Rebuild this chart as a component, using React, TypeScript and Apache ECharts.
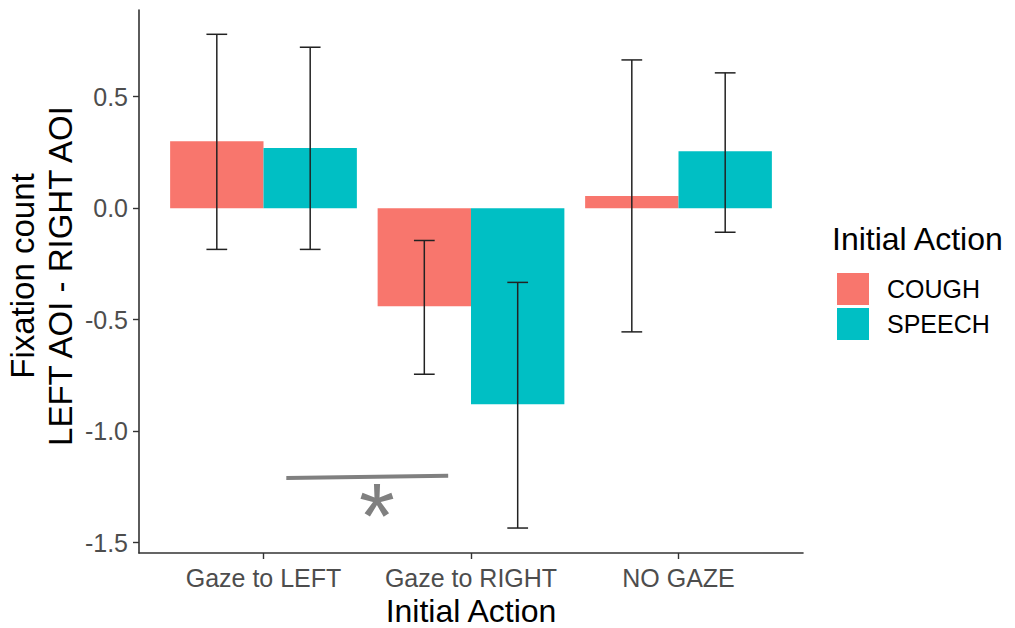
import React, { useEffect, useRef } from "react";
import * as echarts from "echarts";

const categories = ["Gaze to LEFT", "Gaze to RIGHT", "NO GAZE"];
const groups = ["COUGH", "SPEECH"];
const coughMean = [0.3, -0.44, 0.055];
const speechMean = [0.27, -0.88, 0.255];
const coughLow = [-0.185, -0.745, -0.555];
const coughHigh = [0.78, -0.145, 0.665];
const speechLow = [-0.185, -1.435, -0.108];
const speechHigh = [0.722, -0.333, 0.607];
const yTicks = [-1.5, -1.0, -0.5, 0.0, 0.5];
const sigLineX = [1.11, 1.89];
const sigLineY = [-1.211, -1.2];

const colors = ["#F8766D", "#00BFC4"];
const dodge = 0.225;
const barHalf = 0.225;
const whiskerHalf = 0.05;
const FONT = "Liberation Sans, Arial, sans-serif";

export default function App() {
  const ref = useRef<HTMLDivElement>(null);
  useEffect(() => {
    document.body.style.margin = "0";
    if (!ref.current) return;
    const chart = echarts.init(ref.current, null, { renderer: "svg" });
    const means = [coughMean, speechMean];
    const lows = [coughLow, speechLow];
    const highs = [coughHigh, speechHigh];

    const barSeries = groups.map((g, gi) => ({
      type: "custom",
      name: g,
      itemStyle: { color: colors[gi] },
      data: categories.map((_, ci) => [ci + 1 + (gi === 0 ? -dodge : dodge), means[gi][ci]]),
      renderItem: (params: any, api: any) => {
        const x = api.value(0);
        const v = api.value(1);
        const p1 = api.coord([x - barHalf, v]);
        const p2 = api.coord([x + barHalf, 0]);
        return {
          type: "rect",
          shape: {
            x: Math.min(p1[0], p2[0]),
            y: Math.min(p1[1], p2[1]),
            width: Math.abs(p2[0] - p1[0]),
            height: Math.abs(p2[1] - p1[1]),
          },
          style: { fill: colors[gi] },
        };
      },
      z: 2,
    }));

    const errData: number[][] = [];
    groups.forEach((_, gi) => {
      categories.forEach((__, ci) => {
        errData.push([ci + 1 + (gi === 0 ? -dodge : dodge), lows[gi][ci], highs[gi][ci]]);
      });
    });

    const errSeries = {
      type: "custom",
      name: "err",
      data: errData,
      z: 3,
      renderItem: (params: any, api: any) => {
        const x = api.value(0);
        const lo = api.value(1);
        const hi = api.value(2);
        const top = api.coord([x, hi]);
        const bot = api.coord([x, lo]);
        const l = api.coord([x - whiskerHalf, hi])[0];
        const r = api.coord([x + whiskerHalf, hi])[0];
        const st = { stroke: "#222", lineWidth: 1.5 };
        return {
          type: "group",
          children: [
            { type: "line", shape: { x1: top[0], y1: top[1], x2: bot[0], y2: bot[1] }, style: st },
            { type: "line", shape: { x1: l, y1: top[1], x2: r, y2: top[1] }, style: st },
            { type: "line", shape: { x1: l, y1: bot[1], x2: r, y2: bot[1] }, style: st },
          ],
        };
      },
    };

    const sigSeries = {
      type: "line",
      name: "sig",
      data: sigLineX.map((x, i) => [x, sigLineY[i]]),
      symbol: "none",
      lineStyle: { color: "#808080", width: 4, cap: "butt" },
      z: 4,
    };

    chart.setOption({
      animation: false,
      backgroundColor: "#fff",
      grid: { left: 139, right: 212, top: 10, bottom: 75, outerBoundsMode: "none", containLabel: false },
      xAxis: {
        type: "value",
        min: 0.4,
        max: 3.6,
        splitLine: { show: false },
        axisLine: { show: true, onZero: false, lineStyle: { color: "#333", width: 1.6 } },
        axisTick: { show: true, customValues: [1, 2, 3], length: 6, lineStyle: { color: "#333", width: 1.4 } },
        axisLabel: {
          customValues: [1, 2, 3],
          formatter: (v: number) => categories[Math.round(v) - 1] ?? "",
          color: "#4D4D4D",
          fontSize: 25,
          fontFamily: FONT,
          margin: 12,
        },
        name: "Initial Action",
        nameLocation: "middle",
        nameGap: 40,
        nameTextStyle: { color: "#000", fontSize: 32, lineHeight: 32, fontFamily: FONT },
      },
      yAxis: {
        type: "value",
        min: -1.547,
        max: 0.889,
        splitLine: { show: false },
        axisLine: { show: true, lineStyle: { color: "#333", width: 1.6 } },
        axisTick: { show: true, customValues: yTicks, length: 6, lineStyle: { color: "#333", width: 1.4 } },
        axisLabel: {
          customValues: yTicks,
          formatter: (v: number) => v.toFixed(1),
          color: "#4D4D4D",
          fontSize: 25,
          fontFamily: FONT,
          margin: 11,
        },
      },
      legend: {
        data: groups,
        orient: "vertical",
        left: 832,
        top: 268,
        itemWidth: 32,
        itemHeight: 32,
        itemGap: 3,
        icon: "rect",
        textStyle: { color: "#000", fontSize: 25, fontFamily: FONT, padding: [0, 0, 0, 13] },
      },
      graphic: [
        {
          type: "text",
          left: 832,
          top: 223,
          style: { text: "Initial Action", fontSize: 32, fill: "#000", fontFamily: FONT },
        },
        {
          type: "text",
          x: 41,
          y: 276,
          rotation: Math.PI / 2,
          style: {
            text: "Fixation count\nLEFT AOI - RIGHT AOI",
            fontSize: 33,
            lineHeight: 38,
            fill: "#000",
            align: "center",
            verticalAlign: "middle",
            fontFamily: FONT,
          },
        },
        {
          type: "text",
          x: 377,
          y: 516,
          style: {
            text: "*",
            fontSize: 92,
            fill: "#808080",
            align: "center",
            verticalAlign: "middle",
            fontFamily: FONT,
          },
        },
      ],
      series: [...barSeries, errSeries, sigSeries],
    });
    return () => chart.dispose();
  }, []);
  return <div ref={ref} style={{ width: 1015, height: 628 }} />;
}
